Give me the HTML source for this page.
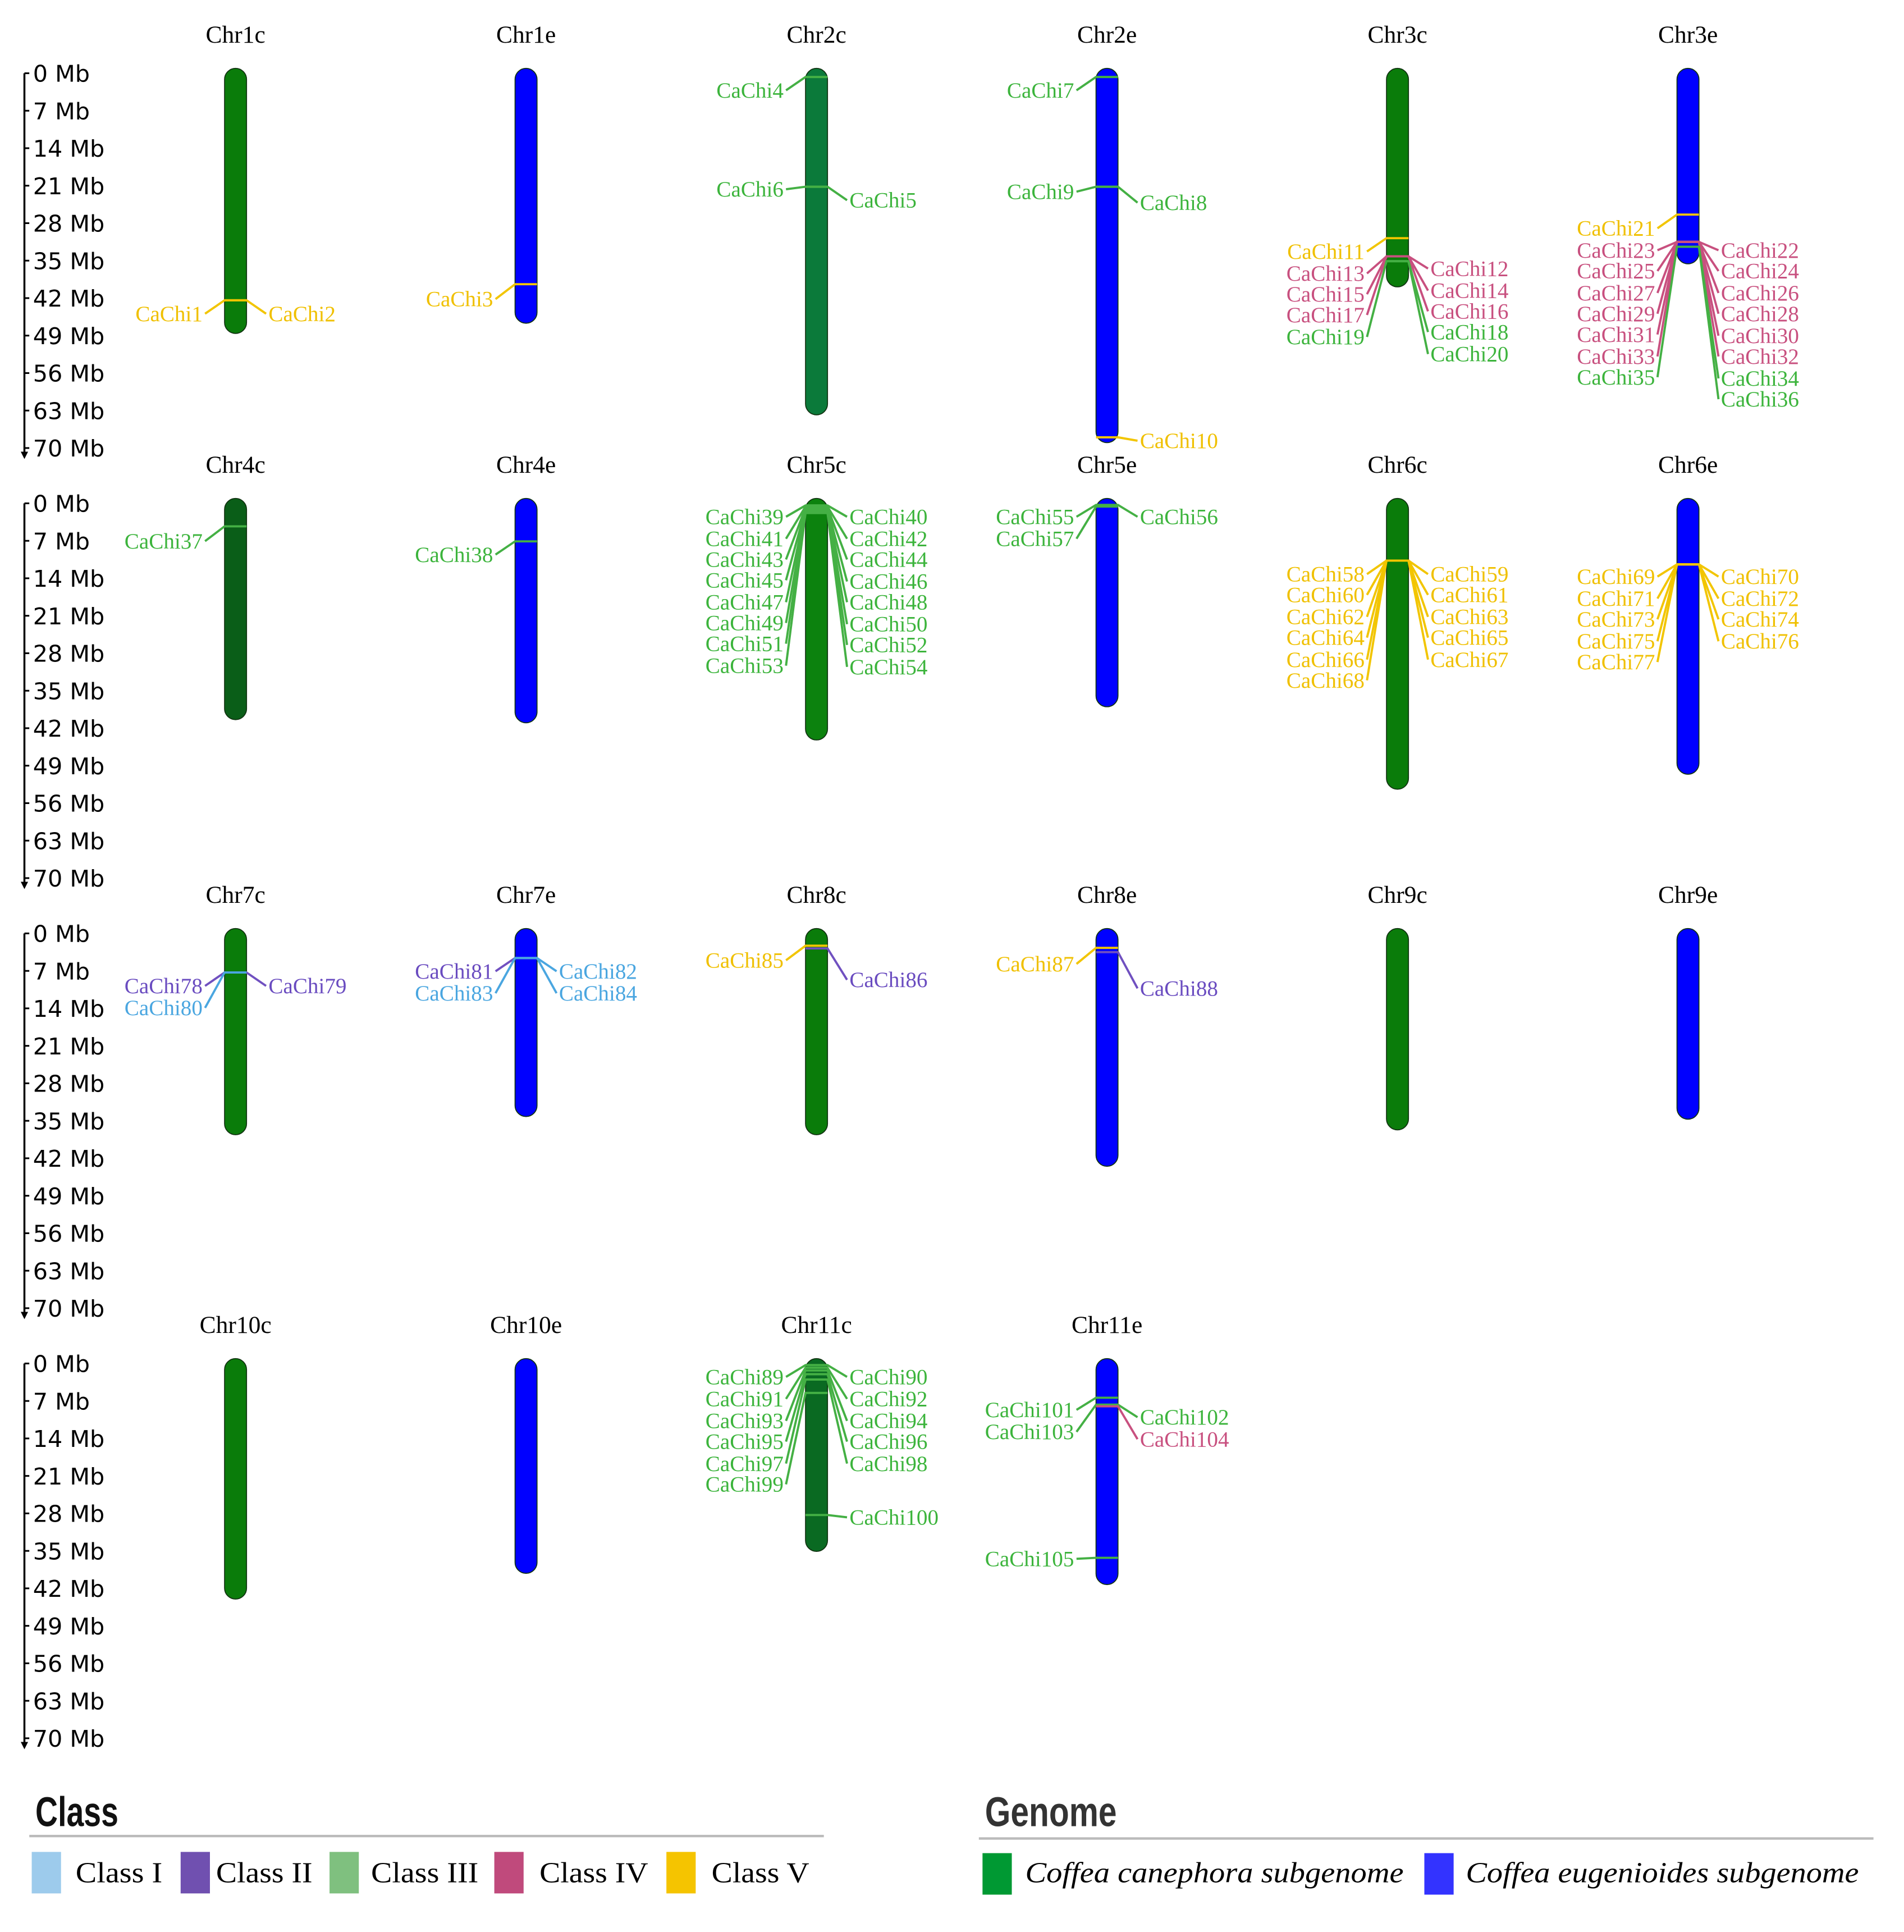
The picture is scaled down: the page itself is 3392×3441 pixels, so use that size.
<!DOCTYPE html>
<html><head><meta charset="utf-8"><style>
html,body{margin:0;padding:0;background:#fff}
svg{display:block}
.t{font-family:"Liberation Serif",serif}
.ax{font-family:"DejaVu Sans","Liberation Sans",sans-serif}
</style></head><body>
<svg id="chart" width="3392" height="3441" viewBox="0 0 1560 1582.6" preserveAspectRatio="none" xmlns="http://www.w3.org/2000/svg">
<g id="plot"></g>
<g id="legend">
  <text x="29" y="1496" font-family="'Liberation Sans',sans-serif" font-weight="bold" font-size="34" textLength="68" lengthAdjust="spacingAndGlyphs" fill="#111">Class</text>
  <rect x="24" y="1503" width="651" height="2" fill="#bbb"/>
  <rect x="26" y="1517" width="24" height="34" fill="#9dcbec"/>
  <text class="t" x="62" y="1542" font-size="24" textLength="71" lengthAdjust="spacingAndGlyphs">Class I</text>
  <rect x="148" y="1517" width="24" height="34" fill="#7050b0"/>
  <text class="t" x="177" y="1542" font-size="24" textLength="79" lengthAdjust="spacingAndGlyphs">Class II</text>
  <rect x="270" y="1517" width="24" height="34" fill="#7fc07f"/>
  <text class="t" x="304" y="1542" font-size="24" textLength="88" lengthAdjust="spacingAndGlyphs">Class III</text>
  <rect x="405" y="1517" width="24" height="34" fill="#c04a7c"/>
  <text class="t" x="442" y="1542" font-size="24" textLength="89" lengthAdjust="spacingAndGlyphs">Class IV</text>
  <rect x="546" y="1517" width="24" height="34" fill="#f5c400"/>
  <text class="t" x="583" y="1542" font-size="24" textLength="80" lengthAdjust="spacingAndGlyphs">Class V</text>
  <text x="807" y="1496" font-family="'Liberation Sans',sans-serif" font-weight="bold" font-size="34" textLength="108" lengthAdjust="spacingAndGlyphs" fill="#333">Genome</text>
  <rect x="802" y="1505" width="733" height="2" fill="#bbb"/>
  <rect x="805" y="1518" width="24" height="34" fill="#009933"/>
  <text class="t" x="840" y="1542" font-size="24" font-style="italic" textLength="310" lengthAdjust="spacingAndGlyphs">Coffea canephora subgenome</text>
  <rect x="1167" y="1518" width="24" height="34" fill="#3333ff"/>
  <text class="t" x="1201" y="1542" font-size="24" font-style="italic" textLength="322" lengthAdjust="spacingAndGlyphs">Coffea eugenioides subgenome</text>
</g>
</svg>
<script>
const chrNames = ["Chr1c","Chr1e","Chr2c","Chr2e","Chr3c","Chr3e","Chr4c","Chr4e","Chr5c","Chr5e","Chr6c","Chr6e","Chr7c","Chr7e","Chr8c","Chr8e","Chr9c","Chr9e","Chr10c","Chr10e","Chr11c","Chr11e"];
const chrLengths = [48.6,46.7,63.8,69,39.9,35.6,40.4,41,44.2,38,53.4,50.6,37.6,34.2,37.6,43.5,36.7,34.7,44,39.2,35.1,41.3];
const axisTicks = [0,7,14,21,28,35,42,49,56,63,70];
const geneChr = [0,0,1,2,2,2,3,3,3,3,4,4,4,4,4,4,4,4,4,4,5,5,5,5,5,5,5,5,5,5,5,5,5,5,5,5,6,7,8,8,8,8,8,8,8,8,8,8,8,8,8,8,8,8,9,9,9,10,10,10,10,10,10,10,10,10,10,10,11,11,11,11,11,11,11,11,11,12,12,12,13,13,13,13,14,14,15,15,20,20,20,20,20,20,20,20,20,20,20,20,21,21,21,21,21];
const genePos = [42.4,42.4,39.4,0.7,21.2,21.2,0.7,21.2,21.2,68,30.8,34.2,34.2,34.2,34.2,34.2,34.2,35.1,35.1,35.1,26.4,31.5,31.5,31.5,31.5,31.5,31.5,31.5,31.5,31.5,31.5,31.5,31.5,32.4,32.4,32.4,4.3,7.1,0.4,0.4,0.6,0.6,0.8,0.8,1.0,1.0,1.2,1.2,1.4,1.4,1.6,1.6,1.8,1.8,0.3,0.3,0.6,10.7,10.7,10.7,10.7,10.7,10.7,10.7,10.7,10.7,10.7,10.7,11.4,11.4,11.4,11.4,11.4,11.4,11.4,11.4,11.4,7.3,7.3,7.3,4.6,4.6,4.6,4.6,2.3,2.8,2.7,3.5,0.3,0.3,0.8,0.8,1.3,1.3,2.0,2.0,3.0,3.0,5.5,28.3,6.4,7.7,7.7,8.0,36.3];
const geneClass = [5,5,5,3,3,3,3,3,3,5,5,4,4,4,4,4,4,3,3,3,5,4,4,4,4,4,4,4,4,4,4,4,4,3,3,3,3,3,3,3,3,3,3,3,3,3,3,3,3,3,3,3,3,3,3,3,3,5,5,5,5,5,5,5,5,5,5,5,5,5,5,5,5,5,5,5,5,2,2,1,2,1,1,1,5,2,5,2,3,3,3,3,3,3,3,3,3,3,3,3,3,3,3,4,3];
const geneSide = ["L","R","L","L","R","L","L","R","L","R",
"L","R","L","R","L","R","L","R","L","R",
"L","R","L","R","L","R","L","R","L","R",
"L","R","L","R","L","R","L","L","L","R",
"L","R","L","R","L","R","L","R","L","R",
"L","R","L","R","L","R","L","L","R","L",
"R","L","R","L","R","L","R","L","L","R",
"L","R","L","R","L","R","L","L","R","L",
"L","R","L","R","L","R","L","R","L","R",
"L","R","L","R","L","R","L","R","L","R",
"L","R","L","R","L"];
// label placement (layout, px offset below the row's 0 Mb line)
const labelDy = [197,197,185,14,104,95,14,106,97,301,146,160,164,178,181,195,198,212,216,230,127,145,145,162,162,180,180,197,197,215,214,232,232,250,249,267,31,42,11,11,29,29,46,46,63,64,81,81,98,99,115,116,133,134,11,11,29,58,58,75,75,93,93,110,110,128,128,145,60,60,78,78,95,95,113,113,130,43,43,61,31,31,49,49,22,38,25,45,11,11,29,29,47,47,64,64,82,82,99,126,38,44,56,62,160];

const classLine = {1:"#4aa6e0",2:"#7050c0",3:"#44b044",4:"#c8507f",5:"#f2c500"};
const classText = {1:"#4aa6e0",2:"#6a4cc0",3:"#3cb43c",4:"#c8507f",5:"#f0c000"};
const chrFill = ["#0a7c0a","#0000ff","#0b7a3a","#0000ff","#0a7c0a","#0000ff","#0a5e18","#0000ff","#0c820e","#0000ff","#0a7c0a","#0000ff","#0a7c0a","#0000ff","#0a7c0a","#0000ff","#0a7c0a","#0000ff","#0a7c0a","#0000ff","#0a6a22","#0000ff"];

const NS = "http://www.w3.org/2000/svg";
const plot = document.getElementById("plot");
const ROW0 = 60, ROWH = 352.3, PXMB = 307/70, COL0 = 193, COLW = 238, HALF = 9;
function rowY0(r){ return ROW0 + r*ROWH; }
function yScale(r, mb){ return rowY0(r) + mb*PXMB; }
function xCol(c){ return COL0 + c*COLW; }
function mk(tag, attrs, parent){ const e=document.createElementNS(NS,tag); for(const k in attrs) e.setAttribute(k,attrs[k]); (parent||plot).appendChild(e); return e; }

for(let r=0;r<4;r++){
  const g = mk("g",{});
  
  
  const y0=yScale(r,0), y1=yScale(r,70);
  mk("line",{x1:20,y1:y0,x2:20,y2:y1+6,stroke:"#000","stroke-width":1.6},g);
  mk("path",{d:`M17,${y1+3} L20,${y1+9} L23,${y1+3} Z`,fill:"#000"},g);
  axisTicks.forEach(t=>{
    const y=yScale(r,t);
    mk("line",{x1:20,y1:y,x2:24,y2:y,stroke:"#000","stroke-width":1.4},g);
    const tx = mk("text",{x:27,y:y+7,"font-size":19,class:"ax",fill:"#000"},g);
    
    
    tx.textContent = t+" Mb";
  });
}

chrNames.forEach((n,i)=>{
  const r=Math.floor(i/6), c=i%6, x=xCol(c);
  const t = mk("text",{x:x,y:rowY0(r)-25,"font-size":20,"text-anchor":"middle",class:"t",fill:"#000"});
  
  
  t.textContent = n;
  const top=yScale(r,0)-4, bot=yScale(r,chrLengths[i]);
  const rc = mk("rect",{x:x-HALF,y:top,width:HALF*2,height:bot-top,rx:HALF,ry:HALF,fill:chrFill[i],stroke:"#113311","stroke-width":0.8});
  
  
});

genePos.forEach((p,i)=>{
  const ci=geneChr[i], r=Math.floor(ci/6), c=ci%6, x=xCol(c);
  const y=yScale(r,p), ly=rowY0(r)+labelDy[i], col=classLine[geneClass[i]];
  const left = geneSide[i]==="L";
  const ex = left? x-HALF : x+HALF, lx = left? x-25 : x+25;
  const ln = mk("polyline",{points:`${x-HALF},${y} ${x+HALF},${y} ${ex},${y} ${lx},${ly}`,fill:"none",stroke:col,"stroke-width":1.8});
  
  
  const tx = mk("text",{x:left? x-27 : x+27,y:ly+6,"font-size":18,"text-anchor":left?"end":"start",class:"t",fill:classText[geneClass[i]]});
  
  
  tx.textContent = "CaChi"+(i+1);
});
</script>
</body></html>
